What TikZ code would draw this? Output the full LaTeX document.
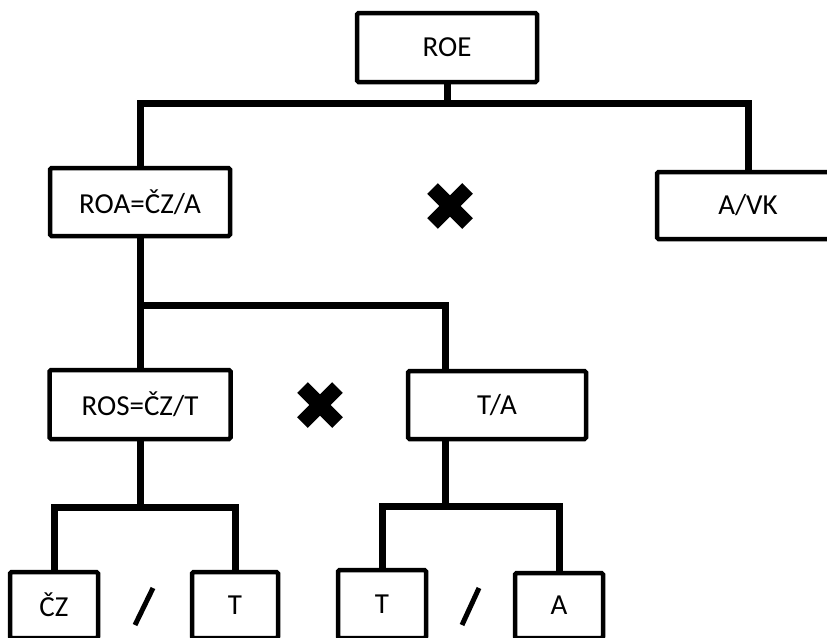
\documentclass[tikz,border=0pt]{standalone}
\usepackage{fontspec}
\setmainfont{Carlito}

\begin{document}
\begin{tikzpicture}[x=1pt,y=-1pt]
        \tikzstyle{every node} = [rectangle, draw, line width=4.5pt, rounded corners=1.5pt, inner sep=0pt, font=\fontsize{29}{35}\selectfont]
        \tikzstyle{conn} = [line width=7pt]
        \tikzstyle{cross} = [line width=15pt]
        \useasboundingbox (0,0) rectangle (827,637);
        \node[minimum width=180pt, minimum height=69pt] (roe) at (447,47.5) {ROE};
        \node[minimum width=180pt, minimum height=68pt] (roa) at (140,202) {ROA=ČZ/A};
        \node[minimum width=182pt, minimum height=67pt] (avk) at (748,205.5) {A/VK};
        \node[minimum width=181pt, minimum height=69pt] (ros) at (140,404.5) {ROS=ČZ/T};
        \node[minimum width=178pt, minimum height=68pt] (ta) at (497,405) {T/A};
        \node[minimum width=88pt, minimum height=66pt] (cz) at (54,605) {ČZ};
        \node[minimum width=86pt, minimum height=66pt] (t1) at (235,605) {T};
        \node[minimum width=88pt, minimum height=68pt] (t2) at (382,604) {T};
        \node[minimum width=88pt, minimum height=65pt] (a) at (559,605.5) {A};
        \foreach \from/\to/\drop in {roe/roa/19, roe/avk/19, ros/cz/66, ros/t1/66}
            \draw[conn] (\from.south) -- ++(0,\drop) -| (\to.north);
        \draw[conn] (roa.south) -- (ros.north);
        \draw[conn] (roa.south) -- ++(0,67) -| ([xshift=-52pt]ta.north);
        \foreach \to in {t2, a}
            \draw[conn] ([xshift=-52pt]ta.south) -- ++(0,65) -| (\to.north);
        % crosses
        \foreach \cx/\cy in {450/206, 320/405} {
            \draw[cross] (\cx-17.5,\cy-17.5) -- (\cx+17.5,\cy+17.5);
            \draw[cross] (\cx-17.5,\cy+17.5) -- (\cx+17.5,\cy-17.5);
        }
        % slashes
        \draw[line width=5pt] (153,588) -- (135,625);
        \draw[line width=5pt] (479,588) -- (462,625);
\end{tikzpicture}
\end{document}
